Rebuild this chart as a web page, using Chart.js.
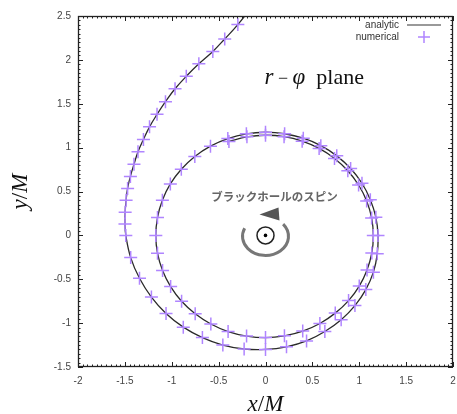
<!DOCTYPE html>
<html>
<head>
<meta charset="utf-8">
<script src="https://cdn.jsdelivr.net/npm/chart.js@4.4.0/dist/chart.umd.min.js"></script>
<style>
  html, body { margin: 0; padding: 0; background: #fff; }
  canvas { display: block; }
</style>
</head>
<body>
<canvas id="orbit" width="457" height="414"></canvas>
<script>
const xTicks = [-2, -1.5, -1, -0.5, 0, 0.5, 1, 1.5, 2];
const yTicks = [-1.5, -1, -0.5, 0, 0.5, 1, 1.5, 2, 2.5];
const seriesNames = ['analytic', 'numerical'];

// orbit (x/M, y/M): incoming arm, then the laps around the hole
const orbitX = [
  -0.137, -0.295, -0.435, -0.562, -0.711, -0.845, -0.965, -1.067, -1.157, -1.237,
  -1.302, -1.360, -1.403, -1.441, -1.471, -1.487, -1.497, -1.499,
  -1.490, -1.438, -1.344, -1.217, -1.061, -0.877, -0.673, -0.455, -0.228, 0.000,
  0.224, 0.438, 0.633, 0.807, 0.954, 1.070, 1.151, 1.192, 1.200,
  1.177, 1.118, 1.029, 0.908, 0.760, 0.590, 0.403, 0.204, 0.000,
  -0.204, -0.402, -0.587, -0.754, -0.898, -1.015, -1.100, -1.152, -1.170,
  -1.152, -1.098, -1.012, -0.895, -0.750, -0.583, -0.399, -0.202, 0.000,
  0.202, 0.397, 0.580, 0.744, 0.886, 1.000, 1.083, 1.134, 1.150,
  1.132, 1.079, 0.993, 0.878, 0.736, 0.572, 0.391, 0.198, 0.000, -0.198, -0.390
];
const orbitY = [
  2.616, 2.402, 2.238, 2.096, 1.955, 1.813, 1.671, 1.524, 1.379, 1.237,
  1.093, 0.952, 0.810, 0.672, 0.535, 0.399, 0.264, 0.131,
  0.000, -0.253, -0.489, -0.703, -0.890, -1.046, -1.165, -1.250, -1.295, -1.300,
  -1.270, -1.203, -1.096, -0.961, -0.800, -0.618, -0.419, -0.210, 0.000,
  0.207, 0.407, 0.594, 0.762, 0.906, 1.022, 1.107, 1.158, 1.175,
  1.157, 1.103, 1.017, 0.899, 0.753, 0.586, 0.401, 0.203, 0.000,
  -0.203, -0.400, -0.584, -0.751, -0.894, -1.010, -1.096, -1.147, -1.165,
  -1.145, -1.091, -1.004, -0.886, -0.743, -0.578, -0.394, -0.200, 0.000,
  0.199, 0.393, 0.574, 0.737, 0.877, 0.991, 1.074, 1.125, 1.141, 1.123, 1.071
];

const points = orbitX.map((x, i) => ({ x: x, y: orbitY[i] }));

const lineColor = '#2a2a2a';
const markColor = '#b085ff';

// gnuplot-like frame with inward major/minor ticks on all four sides
const frameTicks = {
  id: 'frameTicks',
  afterDraw(chart) {
    const { ctx, chartArea: a, scales: { x, y } } = chart;
    ctx.save();
    ctx.strokeStyle = '#222';
    ctx.lineWidth = 1;
    ctx.beginPath();
    for (let i = 0; i <= 80; i++) {
      const len = i % 10 === 0 ? 5 : 2.5;
      const px = Math.round(x.getPixelForValue(-2 + i * 0.05)) + 0.5;
      ctx.moveTo(px, a.bottom); ctx.lineTo(px, a.bottom - len);
      ctx.moveTo(px, a.top); ctx.lineTo(px, a.top + len);
      const py = Math.round(y.getPixelForValue(-1.5 + i * 0.05)) + 0.5;
      ctx.moveTo(a.left, py); ctx.lineTo(a.left + len, py);
      ctx.moveTo(a.right, py); ctx.lineTo(a.right - len, py);
    }
    ctx.stroke();
    ctx.lineWidth = 1.3;
    ctx.strokeRect(a.left + 0.5, a.top + 0.5, a.width - 1, a.height - 1);
    ctx.restore();
  }
};

function drawPieces(ctx, pieces, cx, y) {
  let w = 0;
  pieces.forEach(p => { ctx.font = p.font; w += ctx.measureText(p.t).width; });
  let x = cx - w / 2;
  ctx.textAlign = 'left';
  pieces.forEach(p => { ctx.font = p.font; ctx.fillText(p.t, x, y); x += ctx.measureText(p.t).width; });
}

// labels, legend and the black hole spin sketch
const extras = {
  id: 'extras',
  afterDraw(chart) {
    const { ctx, chartArea: a, scales: { x, y } } = chart;
    const serif = '"Liberation Serif", "DejaVu Serif", serif';
    ctx.save();
    ctx.fillStyle = '#111';
    ctx.textBaseline = 'alphabetic';

    // axis titles
    drawPieces(ctx, [
      { t: 'x', font: 'italic 23px ' + serif },
      { t: '/', font: '23px ' + serif },
      { t: 'M', font: 'italic 23px ' + serif }
    ], x.getPixelForValue(0), 411);
    ctx.save();
    ctx.translate(27, (a.top + a.bottom) / 2);
    ctx.rotate(-Math.PI / 2);
    drawPieces(ctx, [
      { t: 'y', font: 'italic 23px ' + serif },
      { t: '/', font: '23px ' + serif },
      { t: 'M', font: 'italic 23px ' + serif }
    ], 0, 0);
    ctx.restore();

    // r-phi plane
    drawPieces(ctx, [
      { t: 'r', font: 'italic 23px ' + serif },
      { t: ' \u2212 ', font: '18px ' + serif },
      { t: '\u03c6', font: 'italic 23px ' + serif },
      { t: '  plane', font: '22px ' + serif }
    ], x.getPixelForValue(0.52), y.getPixelForValue(1.72));

    // legend
    ctx.font = '10px "Liberation Sans", Arial, sans-serif';
    ctx.fillStyle = '#333';
    ctx.textAlign = 'right';
    ctx.textBaseline = 'middle';
    ctx.fillText(seriesNames[0], a.right - 54, a.top + 9);
    ctx.fillText(seriesNames[1], a.right - 54, a.top + 21);
    ctx.strokeStyle = '#777';
    ctx.lineWidth = 1.5;
    ctx.beginPath();
    ctx.moveTo(a.right - 46, a.top + 9);
    ctx.lineTo(a.right - 12, a.top + 9);
    ctx.stroke();
    ctx.strokeStyle = markColor;
    ctx.beginPath();
    const lx = a.right - 29, ly = a.top + 21;
    ctx.moveTo(lx - 6, ly); ctx.lineTo(lx + 6, ly);
    ctx.moveTo(lx, ly - 6); ctx.lineTo(lx, ly + 6);
    ctx.stroke();

    // spin label
    const cx = x.getPixelForValue(0), cy = y.getPixelForValue(0);
    ctx.font = 'bold 11.5px "Noto Sans CJK JP", sans-serif';
    ctx.fillStyle = '#666';
    ctx.textAlign = 'center';
    ctx.textBaseline = 'middle';
    ctx.fillText('ブラックホールのスピン', cx + 9, cy - 39);

    // spin arrow and the hole itself
    ctx.strokeStyle = '#777';
    ctx.lineWidth = 3;
    ctx.beginPath();
    ctx.ellipse(cx, cy + 1, 23, 19, 0, -40 * Math.PI / 180, 205 * Math.PI / 180, false);
    ctx.stroke();
    ctx.fillStyle = '#555';
    ctx.beginPath();
    ctx.moveTo(cx - 6, cy - 21);
    ctx.lineTo(cx + 13, cy - 28);
    ctx.lineTo(cx + 14, cy - 15);
    ctx.closePath();
    ctx.fill();
    ctx.strokeStyle = '#222';
    ctx.lineWidth = 1.5;
    ctx.beginPath();
    ctx.arc(cx, cy, 8.5, 0, Math.PI * 2);
    ctx.stroke();
    ctx.fillStyle = '#000';
    ctx.beginPath();
    ctx.arc(cx, cy, 1.8, 0, Math.PI * 2);
    ctx.fill();
    ctx.restore();
  }
};

const tickFont = { family: '"Liberation Sans", Arial, sans-serif', size: 10 };

new Chart(document.getElementById('orbit'), {
  type: 'scatter',
  data: {
    datasets: [
      {
        label: seriesNames[1],
        data: points,
        showLine: false,
        pointStyle: 'cross',
        pointRadius: 6.5,
        pointBorderWidth: 1.5,
        pointBorderColor: markColor,
        pointBackgroundColor: markColor
      },
      {
        label: seriesNames[0],
        data: points,
        showLine: true,
        borderColor: lineColor,
        borderWidth: 1.3,
        tension: 0.4,
        pointRadius: 0
      }
    ]
  },
  options: {
    responsive: false,
    animation: false,
    devicePixelRatio: 1,
    layout: { autoPadding: false, padding: { top: 16, right: 4, left: 0, bottom: 0 } },
    plugins: { legend: { display: false }, tooltip: { enabled: false } },
    scales: {
      x: {
        type: 'linear', min: -2, max: 2,
        afterBuildTicks: s => { s.ticks = xTicks.map(v => ({ value: v })); },
        afterFit: s => { s.height = 47; s.paddingLeft = 0; s.paddingRight = 0; },
        grid: { display: false, drawTicks: false },
        border: { display: false },
        ticks: { font: tickFont, color: '#444', padding: 8, maxRotation: 0, callback: v => String(v) }
      },
      y: {
        type: 'linear', min: -1.5, max: 2.5,
        afterBuildTicks: s => { s.ticks = yTicks.map(v => ({ value: v })); },
        afterFit: s => { s.width = 78; s.paddingTop = 0; s.paddingBottom = 0; },
        grid: { display: false, drawTicks: false },
        border: { display: false },
        ticks: { font: tickFont, color: '#444', padding: 7, callback: v => String(v) }
      }
    }
  },
  plugins: [frameTicks, extras]
});
</script>
</body>
</html>
